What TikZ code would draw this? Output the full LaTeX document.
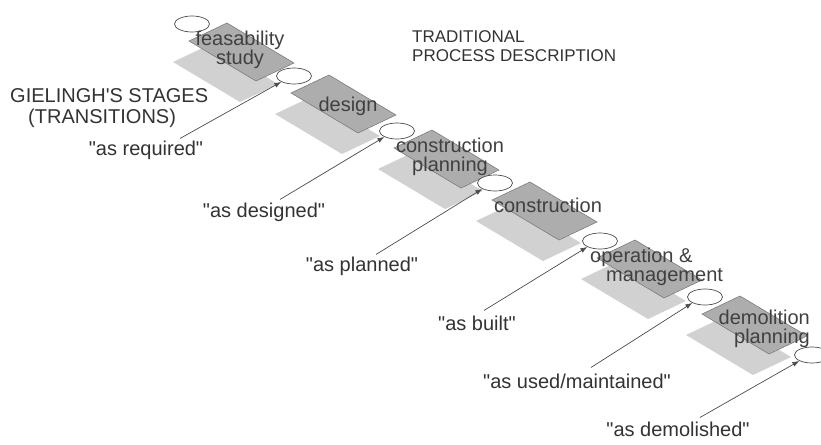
\documentclass[tikz,border=0pt]{standalone}
\usepackage{fontspec}
\setmainfont{Liberation Sans}
\usetikzlibrary{arrows.meta,shapes.geometric}
\newcommand{\qt}[1]{\textquotedbl#1\textquotedbl}
\begin{document}
\begin{tikzpicture}[x=1pt,y=-1pt,
    oval/.style={ellipse,draw=black!70,fill=white,line width=0.7pt,minimum width=35pt,minimum height=16pt,inner sep=0pt},
    shadowfill/.style={fill=black!18},
    stagefill/.style={fill=black!32,draw=black!55,line width=0.5pt},
    stagetext/.style={text=black!75,inner sep=0pt,font=\fontsize{20}{19}\selectfont},
    lbl/.style={text=black!80,inner sep=0pt,font=\fontsize{20}{19}\selectfont},
    title/.style={text=black!80,inner sep=0pt,font=\fontsize{20}{21}\selectfont},
    arr/.style={draw=black!70,line width=0.7pt,-{Latex[length=7pt,width=5pt]}}]
        \useasboundingbox[fill=white] (0,0) rectangle (821,444);
        % transitions
        \coordinate (c1) at (192,24);
        \coordinate (c2) at (294,76);
        \coordinate (c3) at (397,131);
        \coordinate (c4) at (495,183);
        \coordinate (c5) at (600,241);
        \coordinate (c6) at (705,297);
        \coordinate (c7) at (812,355);
        % shadows
        \fill[shadowfill] ([shift={(-19,38)}]c1) -- ++(38,-18) -- ++(67,40) -- ++(-38,18) -- cycle;
        \fill[shadowfill] ([shift={(-19,38)}]c2) -- ++(38,-18) -- ++(67,40) -- ++(-38,18) -- cycle;
        \fill[shadowfill] ([shift={(-19,38)}]c3) -- ++(38,-18) -- ++(67,40) -- ++(-38,18) -- cycle;
        \fill[shadowfill] ([shift={(-19,38)}]c4) -- ++(38,-18) -- ++(67,40) -- ++(-38,18) -- cycle;
        \fill[shadowfill] ([shift={(-19,38)}]c5) -- ++(38,-18) -- ++(67,40) -- ++(-38,18) -- cycle;
        \fill[shadowfill] ([shift={(-19,38)}]c6) -- ++(38,-18) -- ++(67,40) -- ++(-38,18) -- cycle;
        % stages
        \filldraw[stagefill] ([shift={(-3,17)}]c1) -- ++(38,-18) -- ++(67,40) -- ++(-38,18) -- cycle;
        \filldraw[stagefill] ([shift={(-3,17)}]c2) -- ++(38,-18) -- ++(67,40) -- ++(-38,18) -- cycle;
        \filldraw[stagefill] ([shift={(-3,17)}]c3) -- ++(38,-18) -- ++(67,40) -- ++(-38,18) -- cycle;
        \filldraw[stagefill] ([shift={(-3,17)}]c4) -- ++(38,-18) -- ++(67,40) -- ++(-38,18) -- cycle;
        \filldraw[stagefill] ([shift={(-3,17)}]c5) -- ++(38,-18) -- ++(67,40) -- ++(-38,18) -- cycle;
        \filldraw[stagefill] ([shift={(-3,17)}]c6) -- ++(38,-18) -- ++(67,40) -- ++(-38,18) -- cycle;
        \node[oval] (e1) at (c1) {};
        \node[oval] (e2) at (c2) {};
        \node[oval] (e3) at (c3) {};
        \node[oval] (e4) at (c4) {};
        \node[oval] (e5) at (c5) {};
        \node[oval] (e6) at (c6) {};
        \node[oval] (e7) at (c7) {};
        \node[stagetext,align=center] (feas) at (240,50) {feasability\\study};
        \node[stagetext] (design) at (348,106) {design};
        \node[stagetext,align=center] (cplan) at (450,157) {construction\\planning};
        \node[stagetext] (constr) at (548,205) {construction};
        \node[stagetext,align=left,anchor=west] (operat) at (590,267) {operation \&\\\hspace*{16pt}management};
        \node[stagetext,align=right,anchor=east] (demol) at (810,329) {demolition\\planning};
        % headings
        \node[title,align=left,anchor=west,font=\fontsize{17}{19}\selectfont] (trad) at (412,46) {TRADITIONAL\\PROCESS DESCRIPTION};
        \node[title,align=left,anchor=west] (giel) at (10,108) {GIELINGH{\textquotesingle}S STAGES\\\hspace*{18pt}(TRANSITIONS)};
        % labels
        \node[lbl] (req) at (146,150) {\qt{as required}};
        \node[lbl] (desg) at (264,212) {\qt{as designed}};
        \node[lbl] (plan) at (362,266) {\qt{as planned}};
        \node[lbl] (built) at (477,323) {\qt{as built}};
        \node[lbl] (used) at (577,381) {\qt{as used/maintained}};
        \node[lbl] (demo) at (678,429) {\qt{as demolished}};
        \draw[arr] ([shift={(34,-2)}]req.north) -- (e2.205);
        \draw[arr] ([shift={(16,-3)}]desg.north) -- (e3.205);
        \draw[arr] ([shift={(14,-2)}]plan.north) -- (e4.205);
        \draw[arr] ([shift={(7,-5)}]built.north) -- (e5.205);
        \draw[arr] ([shift={(14,-6)}]used.north) -- (e6.205);
        \draw[arr] ([shift={(22,-4)}]demo.north) -- (e7.205);
\end{tikzpicture}
\end{document}
